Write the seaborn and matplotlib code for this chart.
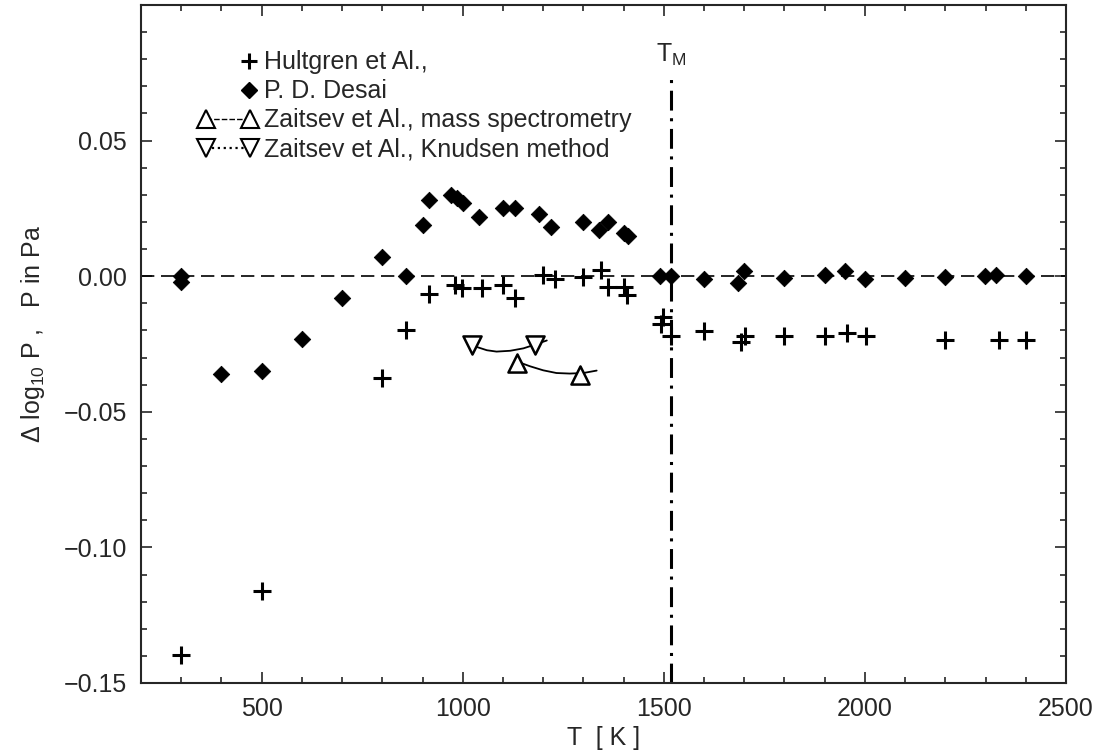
import matplotlib
matplotlib.use("Agg")
import matplotlib.pyplot as plt
from matplotlib.ticker import MultipleLocator, FuncFormatter
from matplotlib.lines import Line2D
from matplotlib.legend_handler import HandlerLine2D
import seaborn as sns

# ---- data ----
hult_T = [300, 500, 800, 860, 916, 981, 997, 1047, 1099, 1131, 1200, 1230, 1300,
          1345, 1360, 1400, 1409, 1494, 1499, 1519, 1600, 1691, 1702, 1800, 1900,
          1955, 2002, 2200, 2334, 2400]
hult_v = [-0.1396, -0.116, -0.0377, -0.0197, -0.0064, -0.0034, -0.0043, -0.0043,
          -0.0034, -0.0082, 0.0003, -0.001, -0.0003, 0.0022, -0.0039, -0.0039,
          -0.0068, -0.0178, -0.015, -0.0221, -0.0203, -0.0242, -0.0219, -0.0219,
          -0.0219, -0.0208, -0.0222, -0.0236, -0.0234, -0.0234]

desai_T = [300, 300, 400, 500, 600, 700, 800, 860, 900, 915, 970, 985, 1000, 1040,
           1100, 1130, 1190, 1220, 1300, 1340, 1360, 1400, 1410, 1490, 1519, 1600,
           1685, 1700, 1800, 1900, 1950, 2000, 2100, 2200, 2299, 2325, 2400]
desai_v = [0.0, -0.002, -0.0359, -0.035, -0.0231, -0.0082, 0.007, 0.0, 0.019, 0.028,
           0.030, 0.029, 0.027, 0.022, 0.025, 0.025, 0.023, 0.018, 0.020, 0.017,
           0.020, 0.016, 0.015, 0.0, 0.0, -0.001, -0.0025, 0.0018, -0.0006, 0.0003,
           0.0018, -0.001, -0.0006, -0.0002, 0.0, 0.0006, 0.0]

ms_T = [1134, 1291]
ms_v = [-0.032, -0.0363]
ms_curve_T = [1134, 1167, 1200, 1233, 1266, 1300, 1333]
ms_curve_v = [-0.0314, -0.0332, -0.0347, -0.0357, -0.0359, -0.0357, -0.0348]

kn_T = [1022, 1179]
kn_v = [-0.0252, -0.0252]
kn_curve_T = [1022, 1035, 1060, 1084, 1118, 1151, 1180, 1209]
kn_curve_v = [-0.0252, -0.0261, -0.0273, -0.0278, -0.0275, -0.0266, -0.0252, -0.0237]

T_melt = 1518

x_ticks = [500, 1000, 1500, 2000, 2500]
y_ticks = [-0.15, -0.10, -0.05, 0.0, 0.05]

labels = ["Hultgren et Al.,", "P. D. Desai",
          "Zaitsev et Al., mass spectrometry", "Zaitsev et Al., Knudsen method"]


class RightMarkerHandler(HandlerLine2D):
    """Single marker drawn near the right end of the handle box."""
    def __init__(self, **kw):
        super().__init__(numpoints=1, **kw)

    def get_xdata(self, legend, xdescent, ydescent, width, height, fontsize):
        right = -xdescent + width - 3.0
        off = 1.0
        xdata = [right - 2 * off, right]
        return xdata, [right - off]


# ---- plot ----
sns.set_style("ticks")
plt.rcParams['font.family'] = ['Liberation Sans', 'DejaVu Sans']
plt.rcParams['mathtext.fontset'] = 'custom'
plt.rcParams['mathtext.rm'] = 'Liberation Sans'
plt.rcParams['mathtext.it'] = 'Liberation Sans'

fig = plt.figure(figsize=(11, 7.56), dpi=100)
ax = fig.add_axes([141/1100, 1-683/756, (1066-141)/1100, (683-5)/756])

ax.axhline(0, color='black', lw=1.2, ls=(0, (8, 4)), zorder=1)
ax.plot([T_melt, T_melt], [-0.15, 0.0733], color='black', lw=2.2,
        ls=(0, (6.5, 2.5, 1.0, 2.5)), zorder=1)
ax.text(T_melt, 0.0815, "T$_\\mathrm{M}$", ha='center', va='center', fontsize=18)

sns.lineplot(x=ms_curve_T, y=ms_curve_v, ax=ax, color='black', lw=1.3,
             sort=False, estimator=None, legend=False)
sns.lineplot(x=kn_curve_T, y=kn_curve_v, ax=ax, color='black', lw=1.3,
             sort=False, estimator=None, legend=False)

sns.scatterplot(x=hult_T, y=hult_v, ax=ax, marker='+', s=150, color='black',
                linewidth=2.2, legend=False, zorder=3)
sns.scatterplot(x=desai_T, y=desai_v, ax=ax, marker='D', s=70, color='black',
                edgecolor='black', linewidth=0.6, legend=False, zorder=3)
sns.scatterplot(x=ms_T, y=ms_v, ax=ax, marker='^', s=170, facecolor='white',
                edgecolor='black', linewidth=1.8, legend=False, zorder=4)
sns.scatterplot(x=kn_T, y=kn_v, ax=ax, marker='v', s=170, facecolor='white',
                edgecolor='black', linewidth=1.8, legend=False, zorder=4)

ax.set_xlim(200, 2500)
ax.set_ylim(-0.15, 0.10)
ax.set_xticks(x_ticks)
ax.set_yticks(y_ticks)
ax.xaxis.set_minor_locator(MultipleLocator(100))
ax.yaxis.set_minor_locator(MultipleLocator(0.01))
ax.yaxis.set_major_formatter(
    FuncFormatter(lambda v, p: f"{v:.2f}".replace("-", "\u2212")))
ax.tick_params(which='both', direction='in', top=True, right=True, labelsize=18,
               width=1.2)
ax.tick_params(which='major', length=8)
ax.tick_params(which='minor', length=4)
ax.tick_params(axis='y', which='major', pad=10)
ax.tick_params(axis='x', which='major', pad=10)
for sp in ax.spines.values():
    sp.set_linewidth(1.5)

ax.set_xlabel("T  [ K ]", fontsize=18, labelpad=4)
ax.set_ylabel("Δ log$_{10}$ P ,   P in Pa", fontsize=18)
ax.yaxis.set_label_coords(-0.102, 0.515)

h_plus = Line2D([], [], ls='none', marker='+', ms=12, mew=2.2, color='black')
h_dia = Line2D([], [], ls='none', marker='D', ms=8, color='black')
h_ms = Line2D([], [], ls=(0, (4, 1.5)), lw=1.0, marker='^', ms=13, mfc='white',
              mec='black', mew=1.5, color='black')
h_kn = Line2D([], [], ls=':', lw=1.6, marker='v', ms=13, mfc='white', mec='black',
              mew=1.5, color='black')
leg = ax.legend([h_plus, h_dia, h_ms, h_kn], labels, loc='upper left',
                bbox_to_anchor=(0.0638, 0.933), frameon=False, fontsize=18,
                handlelength=2.2, handletextpad=0.35, labelspacing=0.2,
                borderaxespad=0.0, borderpad=0.0, numpoints=2,
                handler_map={h_plus: RightMarkerHandler(),
                             h_dia: RightMarkerHandler(),
                             h_ms: HandlerLine2D(numpoints=2, marker_pad=0.22),
                             h_kn: HandlerLine2D(numpoints=2, marker_pad=0.22)})

fig.savefig("out.png", dpi=100)
